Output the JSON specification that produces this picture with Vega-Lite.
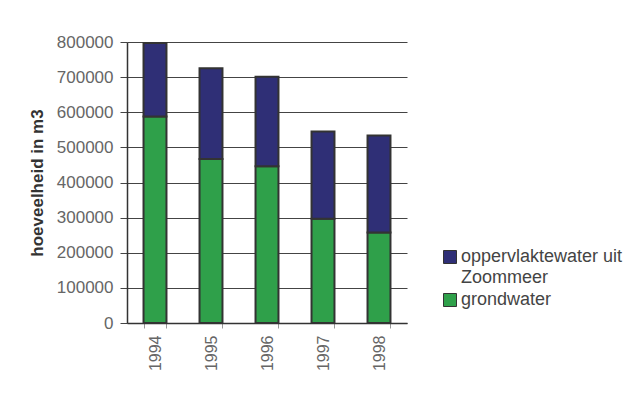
{
  "$schema": "https://vega.github.io/schema/vega-lite/v6.json",
  "autosize": {"type": "none"},
  "width": 280,
  "height": 281,
  "padding": {"left": 127, "top": 42, "right": 222, "bottom": 71},
  "background": "white",
  "config": {
    "font": "Liberation Sans",
    "view": {"stroke": null},
    "style": {"guide-label": {"lineHeight": 21}}
  },
  "data": {
    "values": [
      {"jaar": "1994", "bron": "grondwater", "volgorde": 1, "waarde": 588000},
      {"jaar": "1994", "bron": "oppervlaktewater uit Zoommeer", "volgorde": 2, "waarde": 209000},
      {"jaar": "1995", "bron": "grondwater", "volgorde": 1, "waarde": 467000},
      {"jaar": "1995", "bron": "oppervlaktewater uit Zoommeer", "volgorde": 2, "waarde": 258000},
      {"jaar": "1996", "bron": "grondwater", "volgorde": 1, "waarde": 446000},
      {"jaar": "1996", "bron": "oppervlaktewater uit Zoommeer", "volgorde": 2, "waarde": 255000},
      {"jaar": "1997", "bron": "grondwater", "volgorde": 1, "waarde": 297000},
      {"jaar": "1997", "bron": "oppervlaktewater uit Zoommeer", "volgorde": 2, "waarde": 248000},
      {"jaar": "1998", "bron": "grondwater", "volgorde": 1, "waarde": 258000},
      {"jaar": "1998", "bron": "oppervlaktewater uit Zoommeer", "volgorde": 2, "waarde": 276000}
    ]
  },
  "mark": {"type": "bar", "stroke": "#333333", "strokeWidth": 2},
  "encoding": {
    "x": {
      "field": "jaar",
      "type": "nominal",
      "scale": {"paddingInner": 0.59, "paddingOuter": 0.295},
      "axis": {
        "title": null,
        "labelAngle": 270,
        "labelAlign": "right",
        "labelBaseline": "middle",
        "labelFontSize": 16,
        "labelColor": "#666666",
        "labelPadding": 7,
        "tickBand": "extent",
        "tickSize": 5,
        "tickColor": "#999999",
        "domainColor": "#333333",
        "domainWidth": 1.5
      }
    },
    "y": {
      "field": "waarde",
      "type": "quantitative",
      "stack": "zero",
      "scale": {"domain": [0, 800000], "nice": false},
      "axis": {
        "title": "hoeveelheid in m3",
        "titleFontSize": 17,
        "titleFontWeight": "bold",
        "titleColor": "#333333",
        "titlePadding": 10,
        "values": [0, 100000, 200000, 300000, 400000, 500000, 600000, 700000, 800000],
        "format": "d",
        "labelFontSize": 17,
        "labelColor": "#666666",
        "labelPadding": 7,
        "tickSize": 7,
        "tickColor": "#444444",
        "gridColor": "#444444",
        "gridWidth": 1,
        "gridOpacity": 1,
        "domainColor": "#333333",
        "domainWidth": 1.5
      }
    },
    "order": {"field": "volgorde", "type": "quantitative"},
    "color": {
      "field": "bron",
      "type": "nominal",
      "scale": {
        "domain": ["oppervlaktewater uit Zoommeer", "grondwater"],
        "range": ["#2F2F76", "#2FA04A"]
      },
      "legend": {
        "title": null,
        "orient": "none",
        "legendX": 314,
        "legendY": 206,
        "symbolType": "square",
        "symbolSize": 169,
        "symbolStrokeWidth": 1,
        "symbolStrokeColor": "#333333",
        "symbolOpacity": 1,
        "labelFontSize": 18,
        "labelColor": "#444444",
        "labelOffset": 2,
        "labelLimit": 300,
        "rowPadding": 4,
        "labelExpr": "datum.label == 'oppervlaktewater uit Zoommeer' ? ['oppervlaktewater uit', 'Zoommeer'] : datum.label"
      }
    }
  }
}
